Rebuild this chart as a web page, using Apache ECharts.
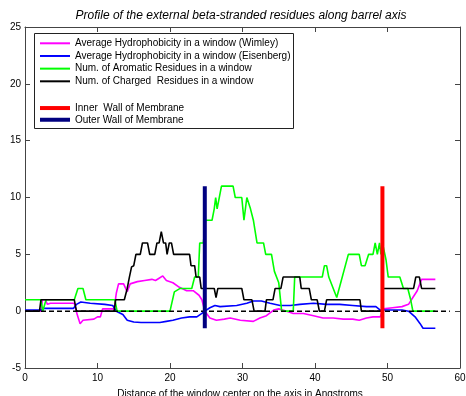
<!DOCTYPE html>
<html>
<head>
<meta charset="utf-8">
<script src="https://cdn.jsdelivr.net/npm/echarts@6/dist/echarts.min.js"></script>
<style>
  html, body { margin: 0; padding: 0; background: #fff; }
  #chart { width: 466px; height: 396px; }
</style>
</head>
<body>
<div id="chart"></div>
<script>
// Window-center positions (Angstroms) and values for each profile.
const wimleyX = [0, 2.2, 2.4, 2.8, 3.1, 3.5, 6.8, 7.2, 7.6, 8.0, 9.5, 10.0, 10.4, 10.7, 12.3, 12.6, 12.9, 13.6, 14.1, 14.5, 15.5, 16.5, 17.5, 18.0, 18.5, 19.0, 19.5, 20.4, 21.3, 22.3, 23.2, 24.0, 24.4, 24.8, 25.5, 26.4, 27.5, 28.3, 29.7, 31.5, 32.4, 33.3, 34.3, 35.0, 36.1, 37.0, 38.4, 39.8, 41.1, 42.5, 43.9, 45.2, 46.1, 47.1, 48.0, 49.0, 49.4, 50.7, 52.0, 52.9, 53.5, 54.1, 54.7, 56.6];
const wimleyY = [0, 0, 1, 1, 0.6, 0.7, 0.7, -0.3, -1.1, -0.8, -0.7, -0.5, -0.5, 0.2, 0.2, 1.6, 2.4, 2.4, 1.7, 2.4, 2.6, 2.7, 2.8, 2.7, 2.9, 3.1, 2.7, 2.5, 2.1, 1.8, 1.8, 1.4, 1.0, 0, -0.6, -0.8, -0.7, -0.6, -0.8, -0.9, -0.6, -0.4, 0.1, 0.2, 0, -0.2, -0.2, -0.4, -0.6, -0.6, -0.7, -0.7, -0.8, -0.6, -0.5, -0.5, 0.2, 0.3, 0.4, 0.6, 1.2, 1.8, 2.8, 2.8];

const eisenbergX = [0, 2.3, 2.6, 6.7, 7.1, 7.7, 9.0, 11.0, 12.1, 12.6, 13.5, 14.1, 15.0, 16.0, 18.6, 19.5, 20.4, 21.6, 22.7, 23.7, 24.4, 24.8, 25.5, 26.2, 26.9, 29.2, 30.6, 31.5, 32.6, 33.8, 35.2, 36.6, 37.9, 39.8, 41.6, 43.4, 45.2, 47.1, 48.4, 49.0, 52.0, 52.9, 53.8, 54.5, 54.9, 56.6];
const eisenbergY = [0.1, 0.1, 0.25, 0.25, 0.6, 0.8, 0.7, 0.6, 0.5, 0, -0.3, -0.8, -0.95, -1.0, -1.0, -0.9, -0.8, -0.6, -0.5, -0.5, -0.2, 0, 0.3, 0.5, 0.4, 0.5, 0.7, 0.9, 0.9, 0.7, 0.5, 0.5, 0.6, 0.7, 0.6, 0.6, 0.5, 0.4, 0.4, 0.1, 0.1, 0, -0.5, -1.1, -1.5, -1.5];

const aromaticX = [0, 2.2, 2.45, 2.7, 2.9, 6.8, 7.3, 8.0, 8.4, 12.4, 12.7, 20.0, 20.6, 21.4, 23.0, 23.4, 23.9, 24.1, 24.6, 24.9, 25.8, 26.1, 26.3, 26.5, 27.1, 28.7, 29.0, 29.9, 30.2, 30.6, 31.1, 31.5, 32.0, 32.9, 33.2, 34.0, 34.4, 35.0, 35.4, 37.0, 37.2, 41.0, 41.3, 41.6, 41.9, 43.0, 44.6, 46.1, 46.4, 46.9, 47.4, 48.0, 48.3, 48.6, 48.9, 49.1, 49.3, 49.8, 50.1, 51.7, 52.2, 52.8, 53.2, 53.5, 56.6];
const aromaticY = [1, 1, 0, 0, 1, 1, 2, 2, 1, 1, 0, 0, 1.7, 2, 2, 3, 3, 6, 6, 8, 8, 9, 10, 9, 11, 11, 10, 10, 8, 10, 9, 8, 6, 6, 5, 5, 3.5, 2.5, 0, 0, 3, 3, 4, 4, 3, 1.2, 5, 5, 4, 4, 5, 5, 6, 5, 6, 5, 6, 4.5, 3, 3, 2, 2, 1, 0, 0];

const chargedX = [0, 2.0, 2.2, 6.8, 7.1, 12.3, 12.5, 13.7, 14.1, 14.4, 14.7, 15.0, 15.3, 15.9, 16.2, 16.9, 17.2, 17.9, 18.2, 18.5, 18.8, 19.1, 19.4, 19.6, 19.9, 20.2, 20.5, 20.7, 22.7, 22.9, 23.4, 23.6, 24.1, 24.3, 26.1, 26.35, 26.6, 29.9, 30.2, 31.3, 31.6, 33.1, 33.3, 34.2, 34.5, 35.3, 35.6, 37.9, 38.1, 39.2, 39.5, 40.3, 40.6, 41.3, 41.6, 46.2, 46.4, 49.2, 49.4, 53.6, 53.9, 54.4, 54.7, 56.6];
const chargedY = [0, 0, 1, 1, 0, 0, 1, 1, 2, 3, 3.9, 4, 5, 5, 6, 6, 5, 5, 6, 6, 7, 6, 6, 5, 6, 6, 5, 5, 5, 4, 4, 3, 3, 2, 2, 1.2, 2, 2, 1, 1, 0, 0, 1, 1, 2, 2, 3, 3, 2, 2, 1, 1, 0, 0, 1, 1, 0, 0, 2, 2, 3, 3, 2, 2];

// Membrane wall positions and the vertical extent drawn for them.
const outerWallX = 24.8;
const innerWallX = 49.3;
const wallSpan = [-1.5, 11];

// Zero reference line extent.
const zeroLineX = [0, 58.6];

// Axis ranges and tick steps.
const xRange = [0, 60], xStep = 10;
const yRange = [-5, 25], yStep = 5;

const seriesNames = [
  'Average Hydrophobicity in a window (Wimley)',
  'Average Hydrophobicity in a window (Eisenberg)',
  'Num. of Aromatic Residues in a window',
  'Num. of Charged  Residues in a window'
];
const wallNames = ['Inner  Wall of Membrane', 'Outer Wall of Membrane'];

const zip = (xs, ys) => xs.map((x, i) => [x, ys[i]]);

const FONT = 'Liberation Sans, Arial, sans-serif';
const axisColor = '#444';

function profileSeries(name, xs, ys, color) {
  return {
    name, type: 'line', data: zip(xs, ys), showSymbol: false, symbol: 'none',
    lineStyle: { color, width: 1.6 }, itemStyle: { color }, animation: false
  };
}
function wallSeries(name, x, color) {
  return {
    name, type: 'line', data: [[x, wallSpan[0]], [x, wallSpan[1]]], symbol: 'none',
    lineStyle: { color, width: 4 }, itemStyle: { color }, z: 5, animation: false
  };
}

const chart = echarts.init(document.getElementById('chart'), null, { renderer: 'canvas' });

const valueAxisBase = {
  type: 'value',
  axisLine: { show: true, onZero: false, lineStyle: { color: axisColor, width: 1 } },
  axisTick: { show: true, inside: true, length: 5, lineStyle: { color: axisColor } },
  splitLine: { show: false },
  axisLabel: { color: '#000', fontSize: 10, fontFamily: FONT, margin: 4 }
};

chart.setOption({
  backgroundColor: '#fff',
  animation: false,
  title: {
    text: 'Profile of the external beta-stranded residues along barrel axis',
    left: 236, top: 5, textAlign: 'center',
    textStyle: { fontSize: 12, fontStyle: 'italic', fontWeight: 'normal', color: '#000', fontFamily: FONT }
  },
  grid: { left: 25, right: 6, top: 27, bottom: 28, containLabel: false, outerBoundsMode: 'none' },
  xAxis: [
    Object.assign({}, valueAxisBase, {
      position: 'bottom', min: xRange[0], max: xRange[1], interval: xStep,
      name: 'Distance of the window center on the axis in Angstroms',
      nameLocation: 'middle', nameGap: 21,
      nameTextStyle: { fontSize: 10, color: '#000', fontFamily: FONT, padding: [0, 0, 0, -5] },
      axisLabel: Object.assign({}, valueAxisBase.axisLabel, { margin: 5 })
    }),
    Object.assign({}, valueAxisBase, {
      position: 'top', min: xRange[0], max: xRange[1], interval: xStep,
      axisLabel: { show: false }
    })
  ],
  yAxis: [
    Object.assign({}, valueAxisBase, {
      position: 'left', min: yRange[0], max: yRange[1], interval: yStep
    }),
    Object.assign({}, valueAxisBase, {
      position: 'right', min: yRange[0], max: yRange[1], interval: yStep,
      axisLabel: { show: false }
    })
  ],
  legend: [
    {
      data: seriesNames, orient: 'vertical', left: 40, top: 37.3, padding: 0,
      itemWidth: 30, itemHeight: 2, itemGap: 0.67, icon: 'rect',
      textStyle: { fontSize: 10, color: '#000', fontFamily: FONT, lineHeight: 12 },
      selectedMode: false
    },
    {
      data: wallNames, orient: 'vertical', left: 40, top: 102.2, padding: 0,
      itemWidth: 30, itemHeight: 4, itemGap: 0, icon: 'rect',
      textStyle: { fontSize: 10, color: '#000', fontFamily: FONT, lineHeight: 11.7 },
      selectedMode: false
    }
  ],
  graphic: [
    {
      type: 'rect', left: 34, top: 33, z: 0,
      shape: { width: 259, height: 95 },
      style: { fill: '#fff', stroke: '#222', lineWidth: 1 }
    }
  ],
  series: [
    profileSeries(seriesNames[0], wimleyX, wimleyY, '#ff00ff'),
    profileSeries(seriesNames[1], eisenbergX, eisenbergY, '#0000ff'),
    profileSeries(seriesNames[2], aromaticX, aromaticY, '#00ff00'),
    profileSeries(seriesNames[3], chargedX, chargedY, '#000000'),
    {
      name: 'zero', type: 'line', data: zeroLineX.map(x => [x, 0]), symbol: 'none',
      lineStyle: { color: '#000', width: 1.5, type: [5, 3] }, z: 4, animation: false
    },
    wallSeries(wallNames[0], innerWallX, '#ff0000'),
    wallSeries(wallNames[1], outerWallX, '#000080')
  ]
});
</script>
</body>
</html>
